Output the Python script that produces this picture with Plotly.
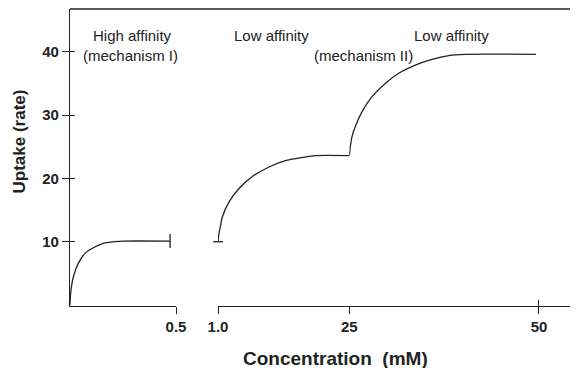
import plotly.graph_objects as go

# ---- data ----
# high-affinity segment (0 - 0.5 mM)
seg1_x = [0.0, 0.003, 0.016, 0.039, 0.071, 0.110, 0.157, 0.212, 0.251, 0.472]
seg1_y = [0.0, 1.85, 4.47, 6.58, 8.16, 9.05, 9.74, 10.0, 10.1, 10.1]
# low-affinity segment (1 - 25 mM)
seg2_x = [1.0, 1.18, 1.48, 1.79, 3.02, 4.85, 7.28, 10.34, 13.33, 16.44, 18.83, 25.0]
seg2_y = [10.0, 11.3, 12.6, 13.9, 16.3, 18.4, 20.3, 21.8, 22.8, 23.3, 23.6, 23.6]
# low-affinity segment, mechanism II (25 - 50 mM)
seg3_x = [25.0, 25.13, 25.36, 25.79, 26.67, 27.99, 29.74, 31.51, 33.70, 35.90, 38.10, 40.29, 49.6]
seg3_y = [23.6, 25.0, 26.6, 28.2, 30.5, 32.9, 35.0, 36.6, 37.9, 38.8, 39.4, 39.6, 39.6]

y_ticks = [10, 20, 30, 40]
x1_ticks, x1_labels = [0.5], ["0.5"]
x2_ticks, x2_labels = [1.0], ["1.0"]
x3_ticks, x3_labels = [25, 50], ["25", "50"]

FONT = "Liberation Sans, Arial, Helvetica, sans-serif"
INK = "#222222"
LW = 1.3

fig = go.Figure()
line = dict(color=INK, width=LW, shape="spline", smoothing=0.6)
fig.add_trace(go.Scatter(x=seg1_x, y=seg1_y, mode="lines", line=line, xaxis="x", yaxis="y"))
fig.add_trace(go.Scatter(x=seg2_x, y=seg2_y, mode="lines", line=line, xaxis="x2", yaxis="y"))
fig.add_trace(go.Scatter(x=seg3_x, y=seg3_y, mode="lines", line=line, xaxis="x3", yaxis="y"))
# end caps
fig.add_trace(go.Scatter(x=[seg1_x[-1]], y=[seg1_y[-1]], mode="markers", cliponaxis=False,
                         marker=dict(symbol="line-ns", size=10, line=dict(color=INK, width=LW)),
                         xaxis="x", yaxis="y"))
fig.add_trace(go.Scatter(x=[seg2_x[0]], y=[seg2_y[0]], mode="markers", cliponaxis=False,
                         marker=dict(symbol="line-ew", size=7, line=dict(color=INK, width=LW)),
                         xaxis="x2", yaxis="y"))
# invisible traces for overlay (inside-tick) axes
for xa, ya in [("x4", "y"), ("x5", "y"), ("x6", "y"), ("x", "y2")]:
    fig.add_trace(go.Scatter(x=[None], y=[None], mode="lines", xaxis=xa, yaxis=ya, hoverinfo="skip"))

tickfont = dict(family=FONT, size=15, color=INK, weight="bold")
W = 501.0
d1 = [0.0, 106 / W]
d2 = [148 / W, 279.3 / W]
d3 = [279.3 / W, 1.0]
r1 = [0, 0.5]
r2 = [1, 25]
r3 = [25, 54.22]
yr = [-0.15, 46.75]

def xax(domain, rng, tv, tt):
    return dict(domain=domain, range=rng, anchor="y", showline=True, linecolor=INK, linewidth=LW,
                ticks="outside", ticklen=7, tickwidth=LW, tickcolor=INK, tickvals=tv, ticktext=tt,
                tickfont=tickfont, showgrid=False, zeroline=False, fixedrange=True)

def xin(over, domain, rng, tv):
    return dict(overlaying=over, domain=domain, range=rng, anchor="y", showline=False,
                ticks="inside", ticklen=6, tickwidth=LW, tickcolor=INK, tickvals=tv,
                showticklabels=False, showgrid=False, zeroline=False)

# the page body adds an 8px offset, so the figure is 570x360 with shifted margins
fig.update_layout(
    width=570, height=360,
    margin=dict(l=62, r=7, t=1, b=62, autoexpand=False),
    paper_bgcolor="white", plot_bgcolor="white",
    showlegend=False,
    font=dict(family=FONT, color=INK),
    xaxis=xax(d1, r1, x1_ticks, x1_labels),
    xaxis2=xax(d2, r2, x2_ticks, x2_labels),
    xaxis3=xax(d3, r3, x3_ticks, x3_labels),
    xaxis4=xin("x", d1, r1, x1_ticks),
    xaxis5=xin("x2", d2, r2, x2_ticks),
    xaxis6=xin("x3", d3, r3, x3_ticks),
    yaxis=dict(domain=[0, 1], range=yr, anchor="x", showline=True, linecolor=INK, linewidth=LW,
               ticks="outside", ticklen=7, tickwidth=LW, tickcolor=INK, tickvals=y_ticks,
               tickfont=tickfont, showgrid=False, zeroline=False, fixedrange=True),
    yaxis2=dict(overlaying="y", range=yr, anchor="x", showline=False, ticks="inside", ticklen=5,
                tickwidth=LW, tickcolor=INK, tickvals=y_ticks, showticklabels=False,
                showgrid=False, zeroline=False),
)

# top frame line
fig.add_shape(type="line", xref="paper", yref="paper", x0=0, x1=1.012, y0=1, y1=1,
              line=dict(color=INK, width=LW))

def ann(text, x, y, size=15, bold=False, angle=0):
    fig.add_annotation(text=text, xref="paper", yref="paper", x=x, y=y, showarrow=False,
                       xanchor="center", yanchor="middle", textangle=angle,
                       font=dict(family=FONT, size=size, color=INK, weight="bold" if bold else "normal"))

ann("Uptake (rate)", (19 - 70) / W, (306 - 141.5) / 297, size=17, bold=True, angle=-90)
ann("Concentration\u00a0 (mM)", (335 - 70) / W, (306 - 358) / 297, size=19, bold=True)
ann("High affinity", (132.5 - 70) / W, (306 - 35) / 297)
ann("(mechanism I)", (130.8 - 70) / W, (306 - 56) / 297)
ann("Low affinity", (271.7 - 70) / W, (306 - 35) / 297)
ann("(mechanism II)", (363 - 70) / W, (306 - 55.7) / 297)
ann("Low affinity", (451.7 - 70) / W, (306 - 35) / 297)

fig.write_html("out.html")
